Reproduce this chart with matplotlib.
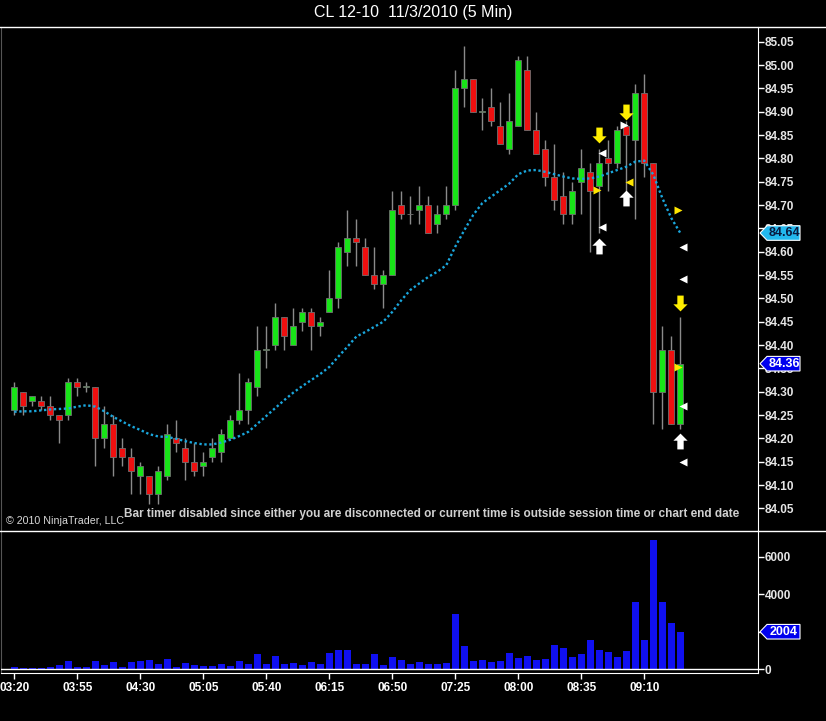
import numpy as np
import matplotlib
matplotlib.use('Agg')
import matplotlib.pyplot as plt
from matplotlib.lines import Line2D
from matplotlib.patches import Polygon
from matplotlib.path import Path
from matplotlib.transforms import blended_transform_factory

# CL 12-10, 5 min bars from 03:20 to 09:30
opens = [84.26, 84.30, 84.28, 84.28, 84.27, 84.25, 84.25, 84.32, 84.31, 84.31,
         84.20, 84.23, 84.18, 84.16, 84.12, 84.12, 84.08, 84.12, 84.20, 84.18,
         84.15, 84.14, 84.16, 84.17, 84.20, 84.24, 84.26, 84.31, 84.39, 84.40,
         84.46, 84.40, 84.45, 84.47, 84.44, 84.47, 84.50, 84.60, 84.63, 84.61,
         84.55, 84.53, 84.55, 84.70, 84.68, 84.69, 84.70, 84.66, 84.68, 84.70,
         84.95, 84.97, 84.90, 84.91, 84.87, 84.82, 84.87, 84.99, 84.86, 84.82,
         84.76, 84.72, 84.68, 84.75, 84.77, 84.74, 84.80, 84.79, 84.87, 84.84,
         84.94, 84.79, 84.30, 84.39, 84.23]
highs = [84.32, 84.30, 84.29, 84.29, 84.29, 84.25, 84.33, 84.33, 84.32, 84.31,
         84.27, 84.25, 84.20, 84.18, 84.15, 84.12, 84.14, 84.23, 84.24, 84.20,
         84.19, 84.17, 84.20, 84.22, 84.25, 84.34, 84.33, 84.44, 84.44, 84.49,
         84.46, 84.48, 84.48, 84.48, 84.46, 84.56, 84.62, 84.69, 84.67, 84.63,
         84.61, 84.56, 84.73, 84.73, 84.72, 84.74, 84.72, 84.70, 84.74, 84.99,
         85.04, 84.97, 84.93, 84.95, 84.92, 84.94, 85.02, 85.02, 84.90, 84.84,
         84.83, 84.77, 84.75, 84.82, 84.79, 84.82, 84.84, 84.87, 84.88, 84.96,
         84.98, 84.79, 84.44, 84.42, 84.46]
lows = [84.25, 84.25, 84.27, 84.26, 84.24, 84.19, 84.24, 84.29, 84.30, 84.14,
        84.18, 84.12, 84.14, 84.08, 84.08, 84.06, 84.06, 84.11, 84.17, 84.11,
        84.12, 84.12, 84.15, 84.15, 84.20, 84.23, 84.23, 84.29, 84.35, 84.39,
        84.39, 84.40, 84.43, 84.39, 84.42, 84.47, 84.48, 84.57, 84.57, 84.55,
        84.52, 84.48, 84.55, 84.67, 84.66, 84.66, 84.64, 84.64, 84.67, 84.69,
        84.91, 84.90, 84.86, 84.87, 84.83, 84.81, 84.87, 84.86, 84.81, 84.74,
        84.69, 84.66, 84.66, 84.68, 84.60, 84.64, 84.73, 84.78, 84.73, 84.67,
        84.76, 84.23, 84.22, 84.23, 84.22]
closes = [84.31, 84.27, 84.29, 84.27, 84.25, 84.24, 84.32, 84.31, 84.31, 84.20,
          84.23, 84.16, 84.16, 84.13, 84.14, 84.08, 84.13, 84.21, 84.19, 84.15,
          84.13, 84.15, 84.18, 84.21, 84.24, 84.26, 84.32, 84.39, 84.39, 84.46,
          84.42, 84.44, 84.47, 84.44, 84.45, 84.50, 84.61, 84.63, 84.62, 84.55,
          84.53, 84.55, 84.69, 84.68, 84.68, 84.70, 84.64, 84.68, 84.70, 84.95,
          84.97, 84.90, 84.90, 84.88, 84.83, 84.88, 85.01, 84.86, 84.81, 84.76,
          84.71, 84.68, 84.73, 84.78, 84.73, 84.79, 84.79, 84.86, 84.85, 84.94,
          84.79, 84.30, 84.39, 84.23, 84.36]
# moving average (dotted cyan)
ma = [84.257, 84.258, 84.258, 84.260, 84.262, 84.263, 84.264, 84.268, 84.271, 84.268,
      84.258, 84.246, 84.236, 84.226, 84.218, 84.209, 84.204, 84.203, 84.199, 84.194,
      84.190, 84.187, 84.187, 84.191, 84.197, 84.205, 84.214, 84.231, 84.248, 84.265,
      84.282, 84.298, 84.312, 84.325, 84.338, 84.353, 84.375, 84.396, 84.418, 84.428,
      84.439, 84.450, 84.471, 84.496, 84.518, 84.532, 84.546, 84.557, 84.571, 84.611,
      84.646, 84.679, 84.704, 84.718, 84.732, 84.746, 84.766, 84.774, 84.775, 84.771,
      84.766, 84.761, 84.757, 84.756, 84.757, 84.761, 84.768, 84.775, 84.782, 84.793,
      84.795, 84.765, 84.715, 84.672, 84.640]
volume = [142, 90, 90, 90, 140, 230, 444, 142, 142, 444,
          230, 391, 142, 391, 444, 498, 284, 569, 142, 338,
          230, 178, 178, 284, 178, 444, 284, 818, 284, 711,
          284, 338, 230, 391, 284, 871, 1031, 1031, 284, 284,
          818, 230, 658, 498, 284, 391, 284, 284, 356, 2951,
          1244, 462, 498, 391, 444, 871, 604, 711, 498, 569,
          1280, 1138, 676, 818, 1564, 1031, 924, 658, 996, 3591,
          1564, 6898, 3591, 2453, 2004]
time_labels = ['03:20', '03:55', '04:30', '05:05', '05:40', '06:15',
               '06:50', '07:25', '08:00', '08:35', '09:10']

# signal markers (bar index, price)
down_yellow_bars = [65, 68, 74]
down_yellow_px = [84.851, 84.899, 84.491]
up_white_bars = [65, 68, 74]
up_white_px = [84.613, 84.715, 84.194]
left_white_bars = [65, 65, 74, 74, 74, 74]
left_white_px = [84.811, 84.652, 84.611, 84.541, 84.270, 84.150]
right_white_bars = [68]
right_white_px = [84.871]
right_yellow_bars = [65, 74, 74]
right_yellow_px = [84.732, 84.689, 84.353]
left_yellow_bars = [68]
left_yellow_px = [84.750]

W, H = 826, 721
fig = plt.figure(figsize=(W / 100, H / 100), dpi=100, facecolor='black')

def fx(px):
    return px / W

def fy(py):
    return 1 - py / H

ax = fig.add_axes([fx(1), fy(531), fx(758) - fx(1), fy(27) - fy(531)], facecolor='black')
axv = fig.add_axes([fx(1), fy(672.7), fx(758) - fx(1), fy(531) - fy(672.7)], facecolor='black', sharex=ax)

n = len(opens)
x = np.arange(n)
o = np.array(opens); c = np.array(closes)
up = c >= o
green = '#18e418'
red = '#ee1010'

ax.vlines(x, lows, highs, color='#8a8a8a', lw=1, zorder=2)
body_h = np.maximum(np.abs(c - o), 0.0015)
ax.bar(x, body_h, bottom=np.minimum(o, c), width=0.66,
       color=np.where(up, green, red), edgecolor='#707070', linewidth=0.6, zorder=3)
ax.plot(x, ma, color='#1aa6dc', lw=1.7, linestyle=(0, (1, 1.1)), zorder=4)

arrow_up = Path([(-0.2, -0.5), (0.2, -0.5), (0.2, 0.05), (0.45, 0.05), (0, 0.5),
                 (-0.45, 0.05), (-0.2, 0.05), (-0.2, -0.5)])
arrow_down = Path([(-0.2, 0.5), (0.2, 0.5), (0.2, -0.05), (0.45, -0.05), (0, -0.5),
                   (-0.45, -0.05), (-0.2, -0.05), (-0.2, 0.5)])
ax.scatter(down_yellow_bars, down_yellow_px, marker=arrow_down, s=130, color='#ffee00', zorder=6, linewidths=0)
ax.scatter(up_white_bars, up_white_px, marker=arrow_up, s=130, color='white', zorder=6, linewidths=0)
ax.plot(np.array(left_white_bars) + 0.3, left_white_px, '<', ms=6, color='white', mec='none', ls='none', zorder=6)
ax.plot(np.array(right_white_bars) - 0.3, right_white_px, '>', ms=6, color='white', mec='none', ls='none', zorder=6)
ax.plot(np.array(right_yellow_bars) - 0.3, right_yellow_px, '>', ms=6, color='#ffe600', mec='none', ls='none', zorder=6)
ax.plot(np.array(left_yellow_bars) + 0.3, left_yellow_px, '<', ms=6, color='#ffe600', mec='none', ls='none', zorder=6)

x0 = (1 - 14.3) / 9
x1 = (758 - 14.3) / 9
ax.set_xlim(x0, x1)
ax.set_ylim(85 - (531 - 65) / 466.7, 85 + (65 - 27) / 466.7)

axv.bar(x, volume, width=0.8, color='#1010f0', zorder=3)
axv.axhline(0, color='white', lw=1, zorder=4)
vs = 2000 / 37.5
axv.set_ylim(-(672.7 - 669.3) * vs, (669.3 - 531) * vs)

tick_font = dict(fontsize=8.5, fontweight='bold', color='#e6e6e6', family='Liberation Sans')
for a in (ax, axv):
    a.yaxis.tick_right()
    a.spines['top'].set_visible(False)
    a.spines['left'].set_color('#555555')
    a.spines['right'].set_color('white')
    a.spines['bottom'].set_visible(False)
    a.tick_params(axis='y', colors='white', length=4, width=1, pad=1, direction='out')
ax.tick_params(axis='x', bottom=False, labelbottom=False)
axv.spines['bottom'].set_visible(True)
axv.spines['bottom'].set_color('white')

pt = np.round(np.arange(84.05, 85.051, 0.05), 2)
ax.set_yticks(pt)
ax.set_yticklabels(['%.2f' % v for v in pt], **tick_font)
# the 2000 label sits fully under the last-volume tag, so only the tick is kept
axv.set_yticks([0, 2000, 4000, 6000])
axv.set_yticklabels(['0', '', '4000', '6000'], **tick_font)
axv.set_xticks(np.arange(0, 71, 7))
axv.set_xticklabels(time_labels, **tick_font)
axv.tick_params(axis='x', colors='white', length=4, width=1, pad=3)

# price tags on the right axis
def tag(a, yval, half, label, face, txt):
    tr = blended_transform_factory(fig.transFigure, a.transData)
    pts = [(fx(760), yval), (fx(767), yval + half), (fx(800), yval + half),
           (fx(800), yval - half), (fx(767), yval - half)]
    a.add_patch(Polygon(pts, closed=True, transform=tr, facecolor=face, edgecolor='white',
                        lw=0.8, clip_on=False, zorder=10))
    a.text(fx(784), yval, label, transform=tr, ha='center', va='center', fontsize=9,
           fontweight='bold', color=txt, family='Liberation Sans', clip_on=False, zorder=11)

tag(ax, 84.64, 7.3 / 466.7, '84.64', '#22b8ee', '#0a1a40')
tag(ax, 84.36, 7.3 / 466.7, '84.36', '#0000ee', 'white')
tag(axv, 2004, 7.3 * vs, '2004', '#0000ee', 'white')

# frame lines across the whole width
for yy in (27, 531):
    fig.add_artist(Line2D([0, 1], [fy(yy), fy(yy)], transform=fig.transFigure, color='white', lw=1))

fig.text(0.5, fy(13), 'CL 12-10  11/3/2010 (5 Min)', ha='center', va='center', fontsize=11.5,
         color='white', family=['Liberation Sans Narrow', 'Liberation Sans'])
fig.text(fx(6), fy(521), '\u00a9 2010 NinjaTrader, LLC', ha='left', va='center', fontsize=7.7,
         color='#d8d8d8', family='Liberation Sans')
fig.text(fx(739), fy(514), 'Bar timer disabled since either you are disconnected or current time '
         'is outside session time or chart end date', ha='right', va='center', fontsize=8.5,
         fontweight='bold', color='#d0d0d0', family='Liberation Sans')

fig.savefig('out.png', dpi=100, facecolor='black')
